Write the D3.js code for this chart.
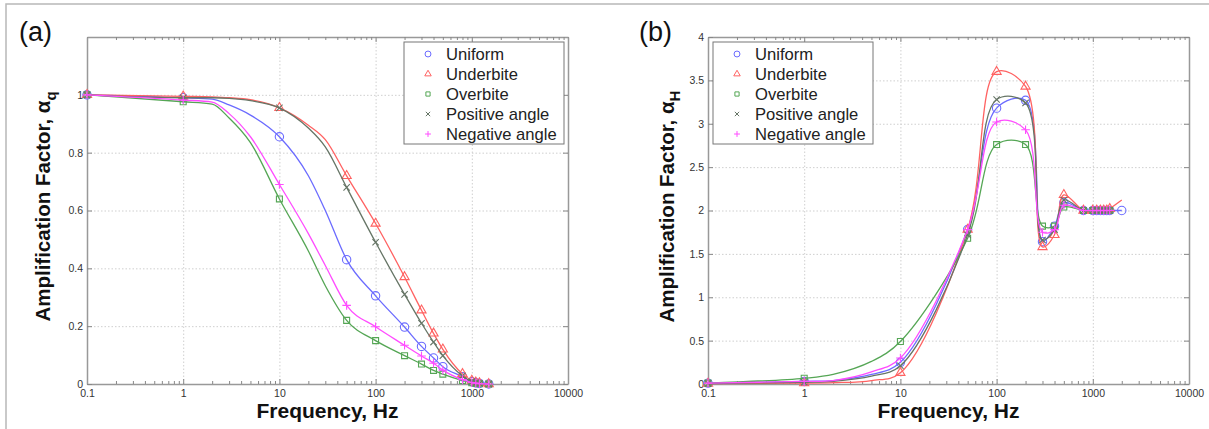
<!DOCTYPE html>
<html>
<head>
<meta charset="utf-8">
<script src="https://cdn.jsdelivr.net/npm/d3@7"></script>
<style>
  body { margin: 0; background: #fff; }
  svg { display: block; font-family: Arial, "Liberation Sans", sans-serif; }
</style>
</head>
<body>
<div id="chart"></div>
<script>
// ---- data ----
const seriesNames = ["Uniform", "Underbite", "Overbite", "Positive angle", "Negative angle"];

// panel (a): amplification factor alpha_q
const freqA = [0.1, 1, 2, 3, 5, 10, 20, 30, 50, 100, 200, 300, 400, 500, 800, 1000, 1100, 1200, 1500];
const markedA = [0.1, 1, 10, 50, 100, 200, 300, 400, 500, 800, 1000, 1100, 1200, 1500];
const uniformA   = [1.0, 0.99, 0.985, 0.965, 0.93, 0.855, 0.72, 0.60, 0.43, 0.305, 0.197, 0.13, 0.09, 0.06, 0.025, 0.008, 0.004, 0.002, 0.0];
const underbiteA = [1.0, 0.995, 0.993, 0.99, 0.983, 0.955, 0.895, 0.845, 0.72, 0.555, 0.37, 0.255, 0.175, 0.12, 0.035, 0.012, 0.006, 0.003, 0.0];
const overbiteA  = [1.0, 0.976, 0.968, 0.92, 0.835, 0.64, 0.46, 0.34, 0.22, 0.15, 0.098, 0.069, 0.047, 0.034, 0.012, 0.004, 0.002, 0.001, 0.0];
const positiveA  = [1.0, 0.99, 0.99, 0.988, 0.98, 0.955, 0.885, 0.82, 0.68, 0.49, 0.31, 0.21, 0.145, 0.098, 0.028, 0.008, 0.004, 0.002, 0.0];
const negativeA  = [1.0, 0.982, 0.975, 0.935, 0.855, 0.69, 0.52, 0.41, 0.272, 0.198, 0.134, 0.097, 0.072, 0.048, 0.015, 0.005, 0.003, 0.001, 0.0];

// panel (b): amplification factor alpha_H
const freqB = [0.1, 1, 2, 5, 10, 50, 100, 200, 300, 400, 500, 800, 1000, 1100, 1200, 1300, 1400, 1500, 2000];
const markedB = [0.1, 1, 10, 50, 100, 200, 300, 400, 500, 800, 1000, 1100, 1200, 1300, 1400, 1500];
const tailMarkedB = ["Uniform"];   // only this series shows a marker at 2000 Hz
const uniformB   = [0.01, 0.03, 0.04, 0.11, 0.25, 1.78, 3.18, 3.27, 1.64, 1.82, 2.09, 2.0, 2.0, 2.0, 2.0, 2.0, 2.0, 2.0, 2.0];
const underbiteB = [0.005, 0.01, 0.015, 0.04, 0.13, 1.78, 3.6, 3.43, 1.58, 1.72, 2.18, 2.0, 2.0, 2.0, 2.0, 2.0, 2.0, 2.02, 2.12];
const overbiteB  = [0.01, 0.066, 0.11, 0.26, 0.49, 1.68, 2.76, 2.76, 1.82, 1.82, 2.04, 2.0, 2.0, 2.0, 2.0, 2.0, 2.0, 2.0, null];
const positiveB  = [0.005, 0.02, 0.03, 0.09, 0.21, 1.72, 3.28, 3.24, 1.66, 1.78, 2.12, 2.0, 2.0, 2.0, 2.0, 2.0, 2.0, 2.0, null];
const negativeB  = [0.01, 0.03, 0.04, 0.14, 0.30, 1.78, 3.02, 2.93, 1.75, 1.78, 2.06, 2.0, 2.0, 2.0, 2.0, 2.0, 2.0, 2.0, null];

const xTicks = [0.1, 1, 10, 100, 1000, 10000];
const yTicksA = [0, 0.2, 0.4, 0.6, 0.8, 1];
const yTicksB = [0, 0.5, 1, 1.5, 2, 2.5, 3, 3.5, 4];

// ---- styles ----
const colors = ["#6b6bff", "#ff6262", "#55a655", "#667566", "#ff4cff"];
const symbols = [d3.symbolCircle, d3.symbolTriangle2, d3.symbolSquare2, d3.symbolTimes, d3.symbolPlus];
const symSizes = [55, 60, 45, 28, 26];

const W = 1209, H = 429;
const svg = d3.select("#chart").append("svg")
    .attr("width", W)
    .attr("height", H);

svg.append("rect").attr("width", W).attr("height", H).attr("fill", "#fff");
// partial frame of the cropped figure
svg.append("path")
    .attr("d", "M6,429V4H1209")
    .attr("fill", "none")
    .attr("stroke", "#b8b8b8")
    .attr("stroke-width", 1.5);

const minorTicks = [];
for (let e = -1; e < 4; e++) {
    for (let k = 2; k < 10; k++) minorTicks.push(k * Math.pow(10, e));
}

function drawPanel(opts) {
    const { left, top, width, height, yMax, yTicks, freqs, marked, tailMarked, values, curve,
            tag, tagX, sub, titleX, legendX } = opts;

    const g = svg.append("g").attr("transform", `translate(${left},${top})`);
    const x = d3.scaleLog().domain([0.1, 10000]).range([0, width]);
    const y = d3.scaleLinear().domain([0, yMax]).range([height, 0]);

    // dotted grid
    g.append("g")
        .attr("transform", `translate(0,${height})`)
        .call(d3.axisBottom(x).tickValues(xTicks.slice(1, -1)).tickSize(-height).tickFormat(""))
        .call(a => a.select(".domain").remove())
        .call(a => a.selectAll("line").attr("stroke", "#cfcfcf").attr("stroke-dasharray", "1.5,2"));
    g.append("g")
        .call(d3.axisLeft(y).tickValues(yTicks.filter(v => v > 0 && v < yMax)).tickSize(-width).tickFormat(""))
        .call(a => a.select(".domain").remove())
        .call(a => a.selectAll("line").attr("stroke", "#cfcfcf").attr("stroke-dasharray", "1.5,2"));

    // axes: ticks pointing inward on all four sides
    const styleAxis = a => {
        a.select(".domain").attr("stroke", "#999").attr("stroke-width", 1.5);
        a.selectAll(".tick line").attr("stroke", "#888");
        a.selectAll("text").attr("fill", "#333").style("font-size", "10.5px").attr("font-family", null);
    };
    g.append("g").attr("transform", `translate(0,${height})`)
        .call(d3.axisBottom(x).tickValues(xTicks).tickFormat(d => String(d)).tickSizeInner(-5).tickSizeOuter(0).tickPadding(6))
        .call(styleAxis);
    g.append("g").attr("transform", `translate(0,${height})`)
        .call(d3.axisBottom(x).tickValues(minorTicks).tickFormat("").tickSizeInner(-3).tickSizeOuter(0))
        .call(a => a.select(".domain").remove()).call(styleAxis);
    g.append("g")
        .call(d3.axisTop(x).tickValues(xTicks).tickFormat("").tickSizeInner(-5).tickSizeOuter(0))
        .call(styleAxis);
    g.append("g")
        .call(d3.axisTop(x).tickValues(minorTicks).tickFormat("").tickSizeInner(-3).tickSizeOuter(0))
        .call(a => a.select(".domain").remove()).call(styleAxis);
    g.append("g")
        .call(d3.axisLeft(y).tickValues(yTicks).tickFormat(d => String(d)).tickSizeInner(-5).tickSizeOuter(0).tickPadding(4))
        .call(styleAxis);
    g.append("g").attr("transform", `translate(${width},0)`)
        .call(d3.axisRight(y).tickValues(yTicks).tickFormat("").tickSizeInner(-5).tickSizeOuter(0))
        .call(styleAxis);

    // series lines
    const line = d3.line()
        .defined(d => d.v !== null)
        .x(d => x(d.f))
        .y(d => y(d.v))
        .curve(curve);

    values.forEach((vals, i) => {
        const pts = freqs.map((f, j) => ({ f: f, v: vals[j] })).filter(d => d.v !== null);
        const last = freqs[freqs.length - 1];
        g.append("path")
            .datum(pts)
            .attr("d", line)
            .attr("fill", "none")
            .attr("stroke", colors[i])
            .attr("stroke-width", 1.3);
        g.append("g").selectAll("path")
            .data(pts.filter(d => marked.includes(d.f) ||
                (d.f === last && tailMarked.includes(seriesNames[i]))))
            .join("path")
            .attr("transform", d => `translate(${x(d.f)},${y(d.v)})`)
            .attr("d", d3.symbol(symbols[i], symSizes[i]))
            .attr("fill", "none")
            .attr("stroke", colors[i])
            .attr("stroke-width", 1.1);
    });

    // legend
    const lg = svg.append("g").attr("transform", `translate(${legendX},42)`);
    lg.append("rect")
        .attr("width", 160).attr("height", 102)
        .attr("fill", "#fff").attr("stroke", "#777").attr("stroke-width", 1);
    seriesNames.forEach((name, i) => {
        const cy = 12 + i * 20;
        lg.append("path")
            .attr("transform", `translate(24,${cy})`)
            .attr("d", d3.symbol(symbols[i], symSizes[i] * 0.5))
            .attr("fill", "none")
            .attr("stroke", colors[i])
            .attr("stroke-width", 1);
        lg.append("text")
            .attr("x", 42).attr("y", cy + 5.5)
            .attr("fill", "#222")
            .style("font-size", "16.6px")
            .text(name);
    });

    // panel tag
    svg.append("text")
        .attr("x", tagX).attr("y", 41)
        .style("font-size", "27px")
        .attr("fill", "#111")
        .text(tag);

    // axis titles
    svg.append("text")
        .attr("x", left + width / 2).attr("y", 418)
        .attr("text-anchor", "middle")
        .style("font-size", "21px").style("font-weight", "bold")
        .attr("fill", "#111")
        .text("Frequency, Hz");

    const yt = svg.append("text")
        .attr("transform", `translate(${titleX},${top + height / 2 - 4}) rotate(-90)`)
        .attr("text-anchor", "middle")
        .style("font-size", "20.5px").style("font-weight", "bold")
        .attr("fill", "#111");
    yt.append("tspan").text("Amplification Factor, \u03b1");
    yt.append("tspan").attr("dy", 6).style("font-size", "15px").text(sub);
}

drawPanel({
    left: 87, top: 37, width: 481, height: 347, yMax: 1.2, yTicks: yTicksA,
    freqs: freqA, marked: markedA, tailMarked: [],
    values: [uniformA, underbiteA, overbiteA, positiveA, negativeA],
    curve: d3.curveMonotoneX,
    tag: "(a)", tagX: 19, sub: "q", titleX: 50, legendX: 404
});

drawPanel({
    left: 708, top: 37, width: 481, height: 347, yMax: 4, yTicks: yTicksB,
    freqs: freqB, marked: markedB, tailMarked: tailMarkedB,
    values: [uniformB, underbiteB, overbiteB, positiveB, negativeB],
    curve: d3.curveCatmullRom.alpha(0.5),
    tag: "(b)", tagX: 639, sub: "H", titleX: 674, legendX: 713
});
</script>
</body>
</html>
